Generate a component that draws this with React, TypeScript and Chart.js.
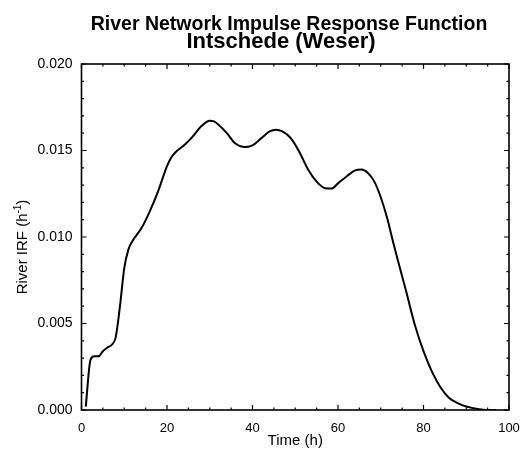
import React, { useEffect, useRef } from "react";
import { Chart, registerables } from "chart.js";

Chart.register(...registerables);

const TITLE_LINE_1 = "River Network Impulse Response Function";
const TITLE_LINE_2 = "Intschede (Weser)";
const X_TITLE = "Time (h)";
const Y_TITLE_MAIN = "River IRF (h";
const Y_TITLE_SUP = "-1";
const Y_TITLE_END = ")";

// Time (h)
const times = [
  1.0, 2.1, 3.0, 4.0, 5.0, 6.0, 7.2, 8.0, 9.0, 10.0, 11.0, 12.0, 14.0, 16.0, 18.0,
  20.0, 21.0, 22.0, 24.0, 26.0, 28.0, 30.0, 31.0, 32.0, 34.0, 36.0, 38.0, 40.0,
  42.0, 44.0, 45.5, 47.0, 49.0, 51.0, 53.0, 55.0, 57.0, 58.5, 60.0, 62.0, 64.0,
  65.5, 67.0, 68.5, 70.0, 71.5, 73.0, 74.5, 76.0, 78.0, 80.0, 82.0, 84.0, 86.0,
  88.0, 90.0, 93.0, 96.0, 97.0,
];
// River IRF (1/h)
const irf = [
  0.0002, 0.0029, 0.0031, 0.0031, 0.0034, 0.0036, 0.0038, 0.0042, 0.006, 0.0082,
  0.0093, 0.0098, 0.0105, 0.0115, 0.0127, 0.0141, 0.0146, 0.0149, 0.0153, 0.0158,
  0.0164, 0.01672, 0.01668, 0.0165, 0.016, 0.0154, 0.0152, 0.0153, 0.0157, 0.0161,
  0.0162, 0.0161, 0.0157, 0.0149, 0.0139, 0.0132, 0.01282, 0.0128, 0.0131, 0.0135,
  0.01385, 0.0139, 0.0137, 0.0132, 0.0123, 0.0111, 0.0096, 0.0082, 0.0068, 0.0049,
  0.0034, 0.0022, 0.0013, 0.0007, 0.0004, 0.0002, 0.00005, 0.0, 0.0,
];

const xMajorTicks = [0, 20, 40, 60, 80, 100];
const xMinorTicks = [5, 10, 15, 25, 30, 35, 45, 50, 55, 65, 70, 75, 85, 90, 95];
const yMajorTicks = [0, 0.005, 0.01, 0.015, 0.02];
const yMinorTicks = [
  0.001, 0.002, 0.003, 0.004, 0.006, 0.007, 0.008, 0.009, 0.011, 0.012, 0.013,
  0.014, 0.016, 0.017, 0.018, 0.019,
];

const FONT = "'Liberation Sans', Arial, Helvetica, sans-serif";

const framePlugin = {
  id: "frameAndText",
  afterDraw(chart: any) {
    const { ctx, chartArea } = chart;
    const xs = chart.scales.x;
    const ys = chart.scales.y;
    const { left, right, top, bottom } = chartArea;
    ctx.save();
    ctx.strokeStyle = "#000";
    ctx.lineWidth = 1.6;
    ctx.strokeRect(left, top, right - left, bottom - top);
    ctx.lineWidth = 1.2;
    const major = 5;
    const minor = 2.5;
    ctx.beginPath();
    const hTick = (v: number, len: number) => {
      const px = xs.getPixelForValue(v);
      ctx.moveTo(px, bottom);
      ctx.lineTo(px, bottom - len);
      ctx.moveTo(px, top);
      ctx.lineTo(px, top + len);
    };
    const vTick = (v: number, len: number) => {
      const py = ys.getPixelForValue(v);
      ctx.moveTo(left, py);
      ctx.lineTo(left + len, py);
      ctx.moveTo(right, py);
      ctx.lineTo(right - len, py);
    };
    xMajorTicks.forEach((v) => hTick(v, major));
    xMinorTicks.forEach((v) => hTick(v, minor));
    yMajorTicks.forEach((v) => vTick(v, major));
    yMinorTicks.forEach((v) => vTick(v, minor));
    ctx.stroke();

    // Title
    ctx.fillStyle = "#000";
    ctx.textAlign = "center";
    ctx.textBaseline = "alphabetic";
    ctx.font = `bold 19.5px ${FONT}`;
    ctx.fillText(TITLE_LINE_1, 289, 30);
    ctx.font = `bold 22px ${FONT}`;
    ctx.fillText(TITLE_LINE_2, 281, 48);

    // Y axis title with superscript
    ctx.translate(27, 247);
    ctx.rotate(-Math.PI / 2);
    ctx.textAlign = "left";
    ctx.font = `15px ${FONT}`;
    const w1 = ctx.measureText(Y_TITLE_MAIN).width;
    const w3 = ctx.measureText(Y_TITLE_END).width;
    ctx.font = `10px ${FONT}`;
    const w2 = ctx.measureText(Y_TITLE_SUP).width;
    const total = w1 + w2 + w3;
    let x0 = -total / 2;
    ctx.font = `15px ${FONT}`;
    ctx.fillText(Y_TITLE_MAIN, x0, 0);
    x0 += w1;
    ctx.font = `10px ${FONT}`;
    ctx.fillText(Y_TITLE_SUP, x0, -6);
    x0 += w2;
    ctx.font = `15px ${FONT}`;
    ctx.fillText(Y_TITLE_END, x0, 0);
    ctx.restore();
  },
};

export default function App() {
  const ref = useRef<HTMLCanvasElement | null>(null);
  useEffect(() => {
    if (!ref.current) return;
    const points = times.map((t, i) => ({ x: t, y: irf[i] }));
    const chart = new Chart(ref.current, {
      type: "line",
      data: {
        datasets: [
          {
            data: points,
            borderColor: "#000",
            borderWidth: 2,
            pointRadius: 0,
            fill: false,
            cubicInterpolationMode: "monotone",
          },
        ],
      },
      options: {
        responsive: false,
        animation: false,
        devicePixelRatio: 1,
        layout: { padding: { top: 64, right: 12, left: 0, bottom: 0 } },
        plugins: {
          legend: { display: false },
          title: { display: false },
          tooltip: { enabled: false },
        },
        scales: {
          x: {
            type: "linear",
            min: 0,
            max: 100,
            grid: { display: false, drawTicks: false },
            border: { display: false },
            ticks: {
              stepSize: 20,
              padding: 11,
              color: "#000",
              font: { family: FONT, size: 13 },
              maxRotation: 0,
            },
            title: {
              display: true,
              text: X_TITLE,
              color: "#000",
              font: { family: FONT, size: 15 },
              padding: { top: 0, bottom: 0 },
            },
            afterFit: (s: any) => {
              s.height = 40;
              s.paddingLeft = 0;
              s.paddingRight = 0;
            },
          },
          y: {
            type: "linear",
            min: 0,
            max: 0.02,
            grid: { display: false, drawTicks: false },
            border: { display: false },
            ticks: {
              stepSize: 0.005,
              padding: 9,
              color: "#000",
              font: { family: FONT, size: 14 },
              callback: (v: any) => Number(v).toFixed(3),
            },
            afterFit: (s: any) => {
              s.width = 81.5;
              s.paddingTop = 0;
              s.paddingBottom = 0;
            },
          },
        },
      },
      plugins: [framePlugin],
    });
    return () => chart.destroy();
  }, []);
  return (
    <div style={{ position: "absolute", left: 0, top: 0, width: 521, height: 450, background: "#fff" }}>
      <canvas ref={ref} width={521} height={450} />
    </div>
  );
}
